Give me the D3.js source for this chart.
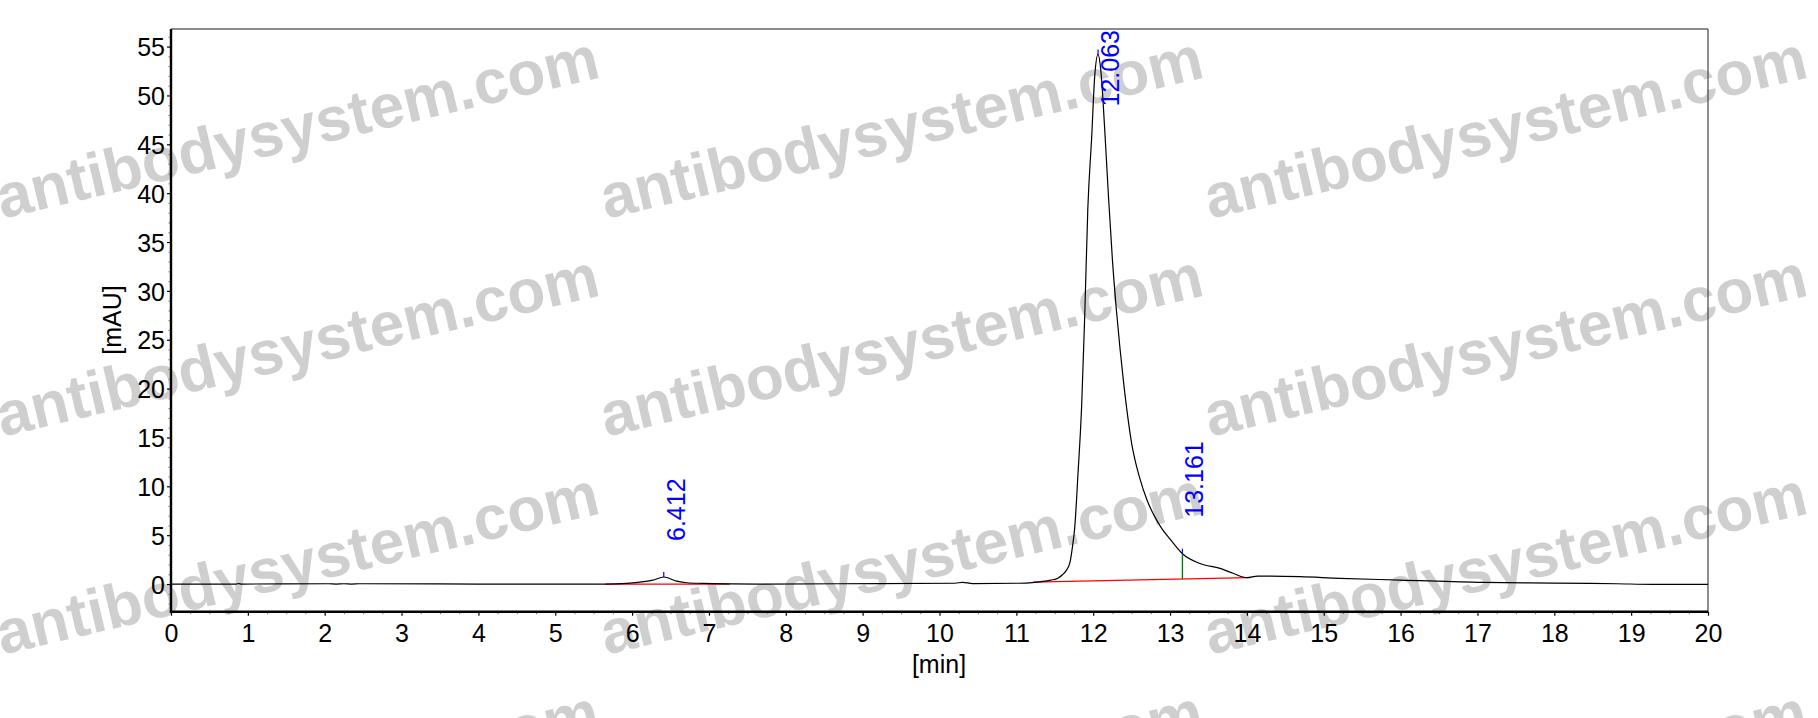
<!DOCTYPE html>
<html><head><meta charset="utf-8">
<script src="https://cdn.jsdelivr.net/npm/d3@7"></script>
<style>
body{margin:0;background:#fff;}
svg{display:block;}
text{font-family:"Liberation Sans",Arial,Helvetica,sans-serif;}
</style>
</head><body>
<svg id="c" width="1818" height="718"></svg>
<script>
// ---- data ----
const time = [0, 0.85, 0.88, 0.92, 2.05, 2.15, 2.25, 2.35, 2.45, 4.0, 5.06, 5.65, 5.93, 6.15, 6.27, 6.412, 6.58, 6.71, 6.92, 7.3, 7.66, 9.22, 10.2, 10.3, 10.43, 11.0, 11.13, 11.3, 11.45, 11.54, 11.6, 11.65, 11.7, 11.73, 11.76, 11.8, 11.85, 11.89, 11.93, 11.98, 12.02, 12.063, 12.1, 12.15, 12.2, 12.25, 12.3, 12.35, 12.4, 12.45, 12.5, 12.55, 12.6, 12.7, 12.8, 12.9, 13.0, 13.161, 13.39, 13.65, 13.82, 14.0, 14.14, 14.69, 15.21, 15.99, 17.07, 17.98, 18.81, 19.28, 20.0];
const signal = [0, 0.0, 0.05, 0.0, 0.03, 0.0, 0.03, 0.0, 0.03, 0.0, 0.0, 0.0, 0.07, 0.24, 0.4, 0.72, 0.3, 0.13, 0.07, 0.02, 0.0, 0.05, 0.08, 0.18, 0.05, 0.08, 0.1, 0.22, 0.4, 0.6, 0.95, 1.4, 2.3, 3.8, 5.8, 11.0, 18.3, 27.5, 38.4, 45.7, 52.0, 54.2, 52.5, 46.5, 39.5, 33.2, 28.2, 24.0, 20.3, 17.1, 14.4, 12.5, 11.0, 8.6, 6.9, 5.6, 4.6, 3.1, 2.1, 1.6, 1.1, 0.65, 0.82, 0.75, 0.58, 0.41, 0.17, 0.1, 0.03, -0.03, -0.03];

const peakTimes = [6.412, 12.063, 13.161];
const peakLabels = ["6.412", "12.063", "13.161"];
const dropLineTimes = [13.161];

// integration baselines (start time, start value, end time, end value)
const baseStartT = [5.65, 11.22];
const baseStartV = [0.0, 0.2];
const baseEndT = [7.27, 14.01];
const baseEndV = [0.0, 0.65];

const xMajorTicks = d3.range(0, 21, 1);
const xMinorTicks = d3.range(0, 20.001, 0.25).filter(v => Math.abs(v - Math.round(v)) > 1e-6);
const yMajorTicks = d3.range(0, 56, 5);
const yMinorTicks = d3.range(-2, 57, 1).filter(v => v % 5 !== 0);

const xLabel = "[min]";
const yLabel = "[mAU]";
const watermark = "antibodysystem.com";

// ---- layout ----
const W = 1818, H = 718;
const L = 171, R = 1708, T = 29, B = 611.7;
const svg = d3.select("#c");

const x = d3.scaleLinear().domain([0, 20]).range([L, R]);
const y = d3.scaleLinear().domain([-2.83, 56.8]).range([B, T]);

// watermark (behind)
const wm = svg.append("g");
const colX = [2, 606, 1210];
const rowY = [219, 437, 655, 873];
colX.forEach(cx => rowY.forEach(ry => {
  wm.append("text")
    .attr("transform", `translate(${cx},${ry}) rotate(-13.3)`)
    .attr("font-size", 62).attr("font-weight", "bold")
    .attr("fill", "#cfcfcf")
    .text(watermark);
}));

// axes
const fontSize = 25;
const gx = svg.append("g").attr("transform", `translate(0,${B})`)
  .call(d3.axisBottom(x).tickValues(xMajorTicks).tickSize(4).tickPadding(8.5).tickFormat(d3.format("d")));
gx.select(".domain").remove();
gx.selectAll("line").attr("stroke", "#000").attr("stroke-width", 1.2);
gx.selectAll("text").attr("font-size", fontSize).attr("fill", "#000").attr("font-family", null);

const gxm = svg.append("g").attr("transform", `translate(0,${B})`)
  .call(d3.axisBottom(x).tickValues(xMinorTicks).tickSize(2.5).tickFormat(""));
gxm.select(".domain").remove();
gxm.selectAll("line").attr("stroke", "#777").attr("stroke-width", 1);

const gy = svg.append("g").attr("transform", `translate(${L},0)`)
  .call(d3.axisLeft(y).tickValues(yMajorTicks).tickSize(4).tickPadding(2).tickFormat(d3.format("d")));
gy.select(".domain").remove();
gy.selectAll("line").attr("stroke", "#000").attr("stroke-width", 1.2);
gy.selectAll("text").attr("font-size", fontSize).attr("fill", "#000").attr("dy", "0.37em").attr("font-family", null);

const gym = svg.append("g").attr("transform", `translate(${L},0)`)
  .call(d3.axisLeft(y).tickValues(yMinorTicks).tickSize(2.5).tickFormat(""));
gym.select(".domain").remove();
gym.selectAll("line").attr("stroke", "#777").attr("stroke-width", 1);

// frame
svg.append("line").attr("x1", L).attr("x2", R).attr("y1", T).attr("y2", T).attr("stroke", "#666").attr("stroke-width", 1.5);
svg.append("line").attr("x1", R).attr("x2", R).attr("y1", T).attr("y2", B).attr("stroke", "#444").attr("stroke-width", 1.2);
svg.append("line").attr("x1", L).attr("x2", L).attr("y1", T).attr("y2", B + 1.2).attr("stroke", "#000").attr("stroke-width", 2.4);
svg.append("line").attr("x1", L - 1.2).attr("x2", R).attr("y1", B).attr("y2", B).attr("stroke", "#000").attr("stroke-width", 2.4);

// axis titles
svg.append("text").attr("x", 939).attr("y", 673)
  .attr("text-anchor", "middle").attr("font-size", fontSize).text(xLabel);
svg.append("text").attr("transform", "translate(121,320) rotate(-90)")
  .attr("text-anchor", "middle").attr("font-size", fontSize).text(yLabel);

// helpers
const sigAt = t => {
  const i = d3.bisectLeft(time, t);
  if (i <= 0) return signal[0];
  if (i >= time.length) return signal[signal.length - 1];
  const t0 = time[i - 1], t1 = time[i];
  return signal[i - 1] + (signal[i] - signal[i - 1]) * (t - t0) / (t1 - t0);
};

// integration baselines (red)
baseStartT.forEach((t0, i) => {
  svg.append("line")
    .attr("x1", x(t0)).attr("y1", y(baseStartV[i]))
    .attr("x2", x(baseEndT[i])).attr("y2", y(baseEndV[i]))
    .attr("stroke", "#ff0000").attr("stroke-width", 1.2);
});

// chromatogram trace
const line = d3.line().x((d, i) => x(time[i])).y(d => y(d)).curve(d3.curveMonotoneX);
svg.append("path").datum(signal).attr("d", line)
  .attr("fill", "none").attr("stroke", "#000").attr("stroke-width", 1.2);

// drop lines (green)
dropLineTimes.forEach(t => {
  const k = baseStartT.findIndex((s, i) => t >= s && t <= baseEndT[i]);
  const bv = baseStartV[k] + (baseEndV[k] - baseStartV[k]) * (t - baseStartT[k]) / (baseEndT[k] - baseStartT[k]);
  svg.append("line").attr("x1", x(t)).attr("x2", x(t))
    .attr("y1", y(bv)).attr("y2", y(sigAt(t)))
    .attr("stroke", "#008000").attr("stroke-width", 1.4);
});

// peak markers and labels
peakTimes.forEach((t, i) => {
  const px = x(t), py = y(sigAt(t));
  svg.append("line").attr("x1", px).attr("x2", px).attr("y1", py).attr("y2", py - 5)
    .attr("stroke", "#0000ff").attr("stroke-width", 1.2);
  const txt = svg.append("text").attr("font-size", fontSize).attr("fill", "#0000ff").text(peakLabels[i]);
  const len = txt.node().getComputedTextLength();
  let start = py - 36;
  if (start - len < T + 1) start = T + 1 + len;
  txt.attr("transform", `translate(${px + 21},${start}) rotate(-90)`);
});
</script>
</body></html>
